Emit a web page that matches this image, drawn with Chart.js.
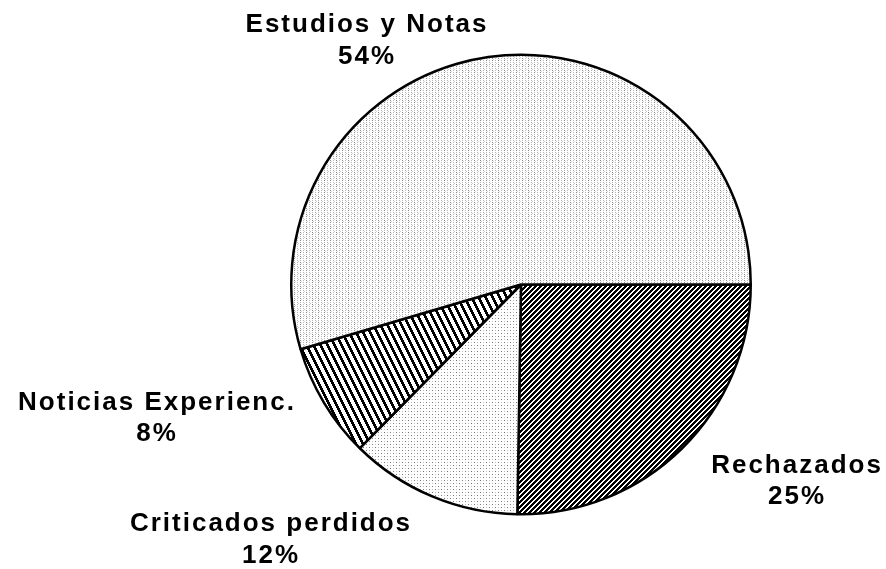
<!DOCTYPE html>
<html>
<head>
<meta charset="utf-8">
<script src="https://cdn.jsdelivr.net/npm/chart.js@4/dist/chart.umd.min.js"></script>
<style>
  html, body { margin: 0; padding: 0; background: #fff; }
  #wrap { width: 886px; height: 569px; position: relative; }
</style>
</head>
<body>
<div id="wrap"><canvas id="c" width="886" height="569"></canvas></div>
<script>
// ---- data ----
const categories = ['Rechazados', 'Criticados perdidos', 'Noticias Experienc.', 'Estudios y Notas'];
const values = [25, 12, 8, 54];
const percentLabels = ['25%', '12%', '8%', '54%'];

// ---- fill patterns (style only) ----
function makePattern(w, h, pixelFn) {
  const cv = document.createElement('canvas');
  cv.width = w; cv.height = h;
  const cx = cv.getContext('2d');
  cx.fillStyle = '#fff';
  cx.fillRect(0, 0, w, h);
  for (let y = 0; y < h; y++) {
    for (let x = 0; x < w; x++) {
      const col = pixelFn(x, y);
      if (col) { cx.fillStyle = col; cx.fillRect(x, y, 1, 1); }
    }
  }
  return cx.createPattern(cv, 'repeat');
}
const ctx = document.getElementById('c').getContext('2d');
// dense "////" hatch
const patRech = makePattern(5, 5, (x, y) => ((x + y) % 5) < 3 ? '#000' : null);
// fine dots
const patCrit = makePattern(6, 6, (x, y) => {
  if ((x === 0 && y === 0) || (x === 3 && y === 3)) return '#7a7a7a';
  if ((x === 3 && y === 0) || (x === 0 && y === 3)) return '#bdbdbd';
  return null;
});
// steep "\\\\" hatch
const patNot = makePattern(7, 14, (x, y) => {
  const v = ((x - Math.floor(y / 2)) % 7 + 7) % 7;
  return v < 3 ? '#000' : null;
});
// grey stipple in columns
const patEst = makePattern(6, 6, (x, y) => {
  if (x % 3 === 0 && y % 2 === 0) return ((x + y) % 4 === 0) ? '#888' : '#b8b8b8';
  if (x === 4 && y === 3) return '#cfcfcf';
  if (x === 1 && y === 5) return '#d8d8d8';
  return null;
});

// ---- label plugin ----
const labelPos = [
  [796, 466, 497],
  [270, 524, 556],
  [156, 403, 434],
  [366, 25, 57]
];
const labelPlugin = {
  id: 'outerLabels',
  afterDraw(chart) {
    const c = chart.ctx;
    c.save();
    c.fillStyle = '#000';
    c.font = 'bold 26px "Liberation Sans", Arial, sans-serif';
    c.textAlign = 'center';
    c.textBaseline = 'middle';
    c.letterSpacing = '2px';
    categories.forEach((name, i) => {
      const p = labelPos[i];
      c.fillText(name, p[0] + 1, p[1]);
      c.fillText(percentLabels[i], p[0] + 1, p[2]);
    });
    c.restore();
  }
};

new Chart(ctx, {
  type: 'pie',
  data: {
    labels: categories,
    datasets: [{
      data: values,
      backgroundColor: [patRech, patCrit, patNot, patEst],
      borderColor: '#000',
      borderWidth: 2.5,
      hoverOffset: 0
    }]
  },
  options: {
    responsive: false,
    animation: false,
    rotation: 90,
    layout: { padding: { left: 290, right: 134, top: 53, bottom: 53 } },
    plugins: { legend: { display: false }, tooltip: { enabled: false } }
  },
  plugins: [labelPlugin]
});
</script>
</body>
</html>
